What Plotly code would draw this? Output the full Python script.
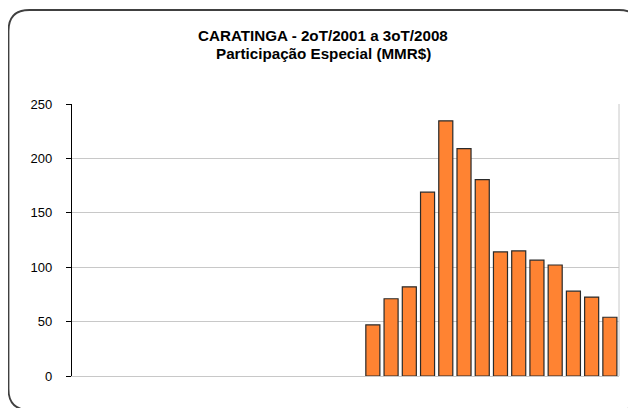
import plotly.graph_objects as go

quarters = []
for yr in range(2001, 2009):
    for q in range(1, 5):
        if (yr == 2001 and q < 2) or (yr == 2008 and q > 3):
            continue
        quarters.append(f"{q}oT/{yr}")

values = [None] * 16 + [47, 71, 82, 169, 234.5, 209, 180.5, 114, 115, 106.5, 102, 78, 72.5, 54]

y_ticks = [0, 50, 100, 150, 200, 250]

# page body has an 8px margin, so figure coords = screen coords - 8
OFF = 8
W, H = 636 - OFF, 408 - OFF
L, R, T, B = 72 - OFF, 636 - 619, 104 - OFF, 408 - 376
pw, ph = W - L - R, H - T - B

def px(x):
    return (x - OFF - L) / pw

def py(y):
    return (H - B - (y - OFF)) / ph

fig = go.Figure()
fig.add_trace(go.Bar(
    x=quarters, y=values,
    marker=dict(color="#FF8332", line=dict(color="#2a2a2a", width=1.2)),
))

# rounded frame (screen coords); right and bottom edges fall outside the view
x0, x1, y0, y1, r = 8.5, 640, 10, 410, 21
path = (
    f"M {px(x0+r)},{py(y0)} L {px(x1-r)},{py(y0)} "
    f"Q {px(x1)},{py(y0)} {px(x1)},{py(y0+r)} "
    f"L {px(x1)},{py(y1-r)} Q {px(x1)},{py(y1)} {px(x1-r)},{py(y1)} "
    f"L {px(x0+r)},{py(y1)} Q {px(x0)},{py(y1)} {px(x0)},{py(y1-r)} "
    f"L {px(x0)},{py(y0+r)} Q {px(x0)},{py(y0)} {px(x0+r)},{py(y0)} Z"
)
fig.add_shape(type="path", path=path, xref="paper", yref="paper",
              line=dict(color="#404040", width=1.8), layer="below")
# right border of plot area
fig.add_shape(type="line", xref="paper", yref="paper", x0=1, x1=1, y0=0, y1=1,
              line=dict(color="#c8c8c8", width=1))

title_lines = ["CARATINGA - 2oT/2001 a 3oT/2008", "Participação Especial (MMR$)"]
for txt, yc in zip(title_lines, [35.5, 53.5]):
    fig.add_annotation(
        text=f"<b>{txt}</b>",
        xref="paper", yref="paper", x=px(323), y=py(yc), showarrow=False,
        xanchor="center", yanchor="middle",
        font=dict(family="Liberation Sans, Arial", size=15.2, color="#000000"),
    )

fig.update_layout(
    width=W, height=H,
    margin=dict(l=L, r=R, t=T, b=B),
    paper_bgcolor="white", plot_bgcolor="white",
    showlegend=False, bargap=0.23,
    font=dict(family="Liberation Sans, Arial", size=13, color="#000000"),
    xaxis=dict(showticklabels=False, ticks="", showgrid=False,
               showline=True, linecolor="#c8c8c8", linewidth=1, mirror=False,
               zeroline=False),
    yaxis=dict(range=[0, 250], tickvals=y_ticks, ticks="outside", ticklen=5,
               tickcolor="#000000", showline=True, linecolor="#000000", linewidth=1.3,
               showgrid=True, gridcolor="#c8c8c8", gridwidth=1, zeroline=False,
               ticklabelstandoff=11),
)

fig.write_html("out.html")
